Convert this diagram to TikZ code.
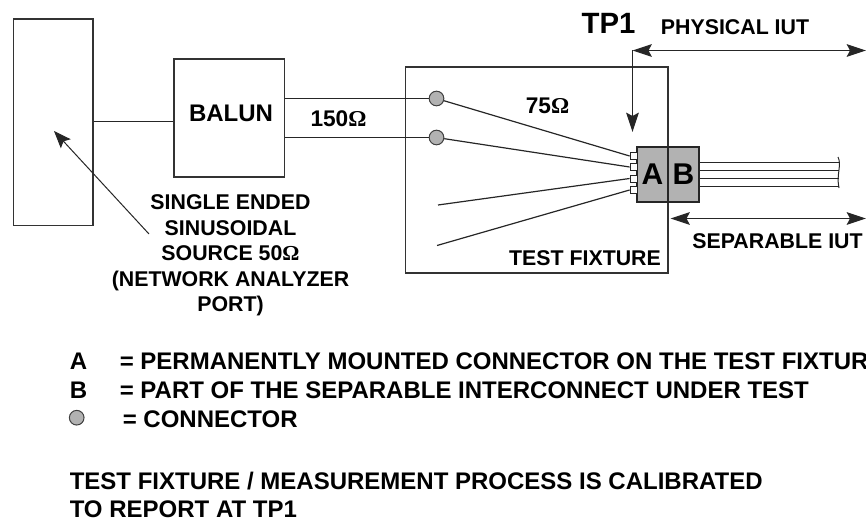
\documentclass[tikz,border=0pt]{standalone}
\usepackage{fontspec}
\setmainfont{Liberation Sans}
\newfontfamily\omegafont{Liberation Serif}
\usetikzlibrary{arrows.meta}
\newcommand{\ohm}{{\omegafont\bfseries\char"03A9}}
\tikzset{
    %Define standard arrow tip
    >={Stealth[length=14.5pt,width=9.5pt,inset=2.5pt]},
    %Define style for boxes
    plainbox/.style={
           draw=black!80,
           line width=.9pt,
           inner sep=0pt},
    conbox/.style={
           draw=black!85,
           line width=.9pt,
           fill=black!30,
           inner sep=0pt,
           minimum width=23.25pt,
           minimum height=41.25pt,
           font=\fontsize{22.5}{24}\selectfont\bfseries},
    pin/.style={
           draw=black!85,
           line width=.6pt,
           fill=white,
           inner sep=0pt,
           minimum width=5.25pt,
           minimum height=5.25pt},
    port/.style={
           circle,
           draw=black!75,
           line width=.75pt,
           fill=black!30,
           inner sep=0pt,
           minimum size=11pt},
    lbl/.style={
           inner sep=0pt,
           font=\fontsize{16}{19.2}\selectfont\bfseries},
    legend/.style={
           lbl,
           anchor=west,
           font=\fontsize{18}{19.2}\selectfont\bfseries},
    % Define wire style
    wire/.style={
           draw=black!85,
           line width=.9pt},
    % Define arrow style
    pil/.style={
           <->,
           draw=black!85,
           line width=.9pt}
}
\begin{document}
\begin{tikzpicture}[x=.75pt,y=-.75pt]
\useasboundingbox (0,0) rectangle (866,520);
 %boxes
\node[plainbox, minimum width=59.6pt, minimum height=154.9pt](source) at (53.25,122.25){};
\node[plainbox, minimum width=82.9pt, minimum height=88.5pt, text depth=0pt](balun) at (229.25,118){};
\node[plainbox, minimum width=196.9pt, minimum height=154.5pt](fixture) at (536.75,170){};
\node[lbl, font=\fontsize{18}{20}\selectfont\bfseries](balunlbl) at (231,113){BALUN};
 %connectors
\node[port](con1) at (436.5,98.5){};
\node[port](con2) at (436.5,137.5){};
\node[conbox](a) at (652.5,174.5){A};
\node[conbox](b) at (683.5,174.5){B};
\node[pin](p1) at (633.5,156){};
\node[pin](p2) at (633.5,167){};
\node[pin](p3) at (633.5,178.5){};
\node[pin](p4) at (633.5,190){};
 %free ends
\coordinate (f3) at (438,205);
\coordinate (f4) at (437,245.5);
\coordinate (w1) at (838.5,162.5);
\coordinate (w2) at (838.5,170.5);
\coordinate (w3) at (838.5,178.5);
\coordinate (w4) at (838.5,186.5);
\coordinate (tp) at (632.5,50.5);
\coordinate (tpend) at (632.5,132);
\coordinate (phys) at (866,50.5);
\coordinate (sepl) at (670.5,218.5);
\coordinate (sepr) at (866,218.5);
\coordinate (srcfrom) at (149,234);
\coordinate (srcto) at (54,131);
 %lines
\path[wire]
    (source.east |- 0,121.5) edge (balun.west |- 0,121.5)
    (balun.east |- con1) edge (con1)
    (balun.east |- con2) edge (con2)
    (con1) edge (p1.west)
    (con2) edge (p2.west)
    (f3) edge (p3.west)
    (f4) edge (p4.west)
    (b.east |- w1) edge (w1)
    (b.east |- w2) edge (w2)
    (b.east |- w3) edge (w3)
    (b.east |- w4) edge (w4);
\draw[wire, line width=.75pt] (838,157) .. controls (842,165) and (836,175) .. (839,188);
 %arrows
\draw[pil] (tp) -- (phys);
\draw[pil] (sepl) -- (sepr);
\draw[draw=black!85, line width=.9pt, ->] (tp) -- (tpend);
\draw[draw=black!85, line width=.75pt, ->, >={Stealth[length=13pt,width=10pt,inset=2.5pt]}] (srcfrom) -- (srcto);
 %labels
\node[lbl, font=\fontsize{22}{24}\selectfont\bfseries](tplbl) at (608.5,23){TP1};
\node[lbl](physlbl) at (735,27.5){PHYSICAL IUT};
\node[lbl](seplbl) at (777.5,241.5){SEPARABLE IUT};
\node[lbl](fixlbl) at (585,258){TEST FIXTURE};
\node[lbl, font=\fontsize{17}{20}\selectfont\bfseries](z1) at (338.5,119){150\ohm};
\node[lbl, font=\fontsize{17}{20}\selectfont\bfseries](z2) at (547.5,106){75\ohm};
\node[lbl, align=center](srclbl) at (230.5,255.5){SINGLE ENDED\\SINUSOIDAL\\SOURCE 50\ohm\\(NETWORK ANALYZER\\PORT)};
 %legend
\node[legend](la) at (69.5,361.5){A};
\node[legend](lat) at (119.5,361.5){= PERMANENTLY MOUNTED CONNECTOR ON THE TEST FIXTURE};
\node[legend](lb) at (69.5,390){B};
\node[legend](lbt) at (119.5,390){= PART OF THE SEPARABLE INTERCONNECT UNDER TEST};
\node[port, minimum size=11pt](lc) at (76.7,417.7){};
\node[legend](lct) at (122.5,419){= CONNECTOR};
\node[legend](note1) at (69.5,481.5){TEST FIXTURE / MEASUREMENT PROCESS IS CALIBRATED};
\node[legend](note2) at (69.5,509.5){TO REPORT AT TP1};
\end{tikzpicture}
\end{document}
